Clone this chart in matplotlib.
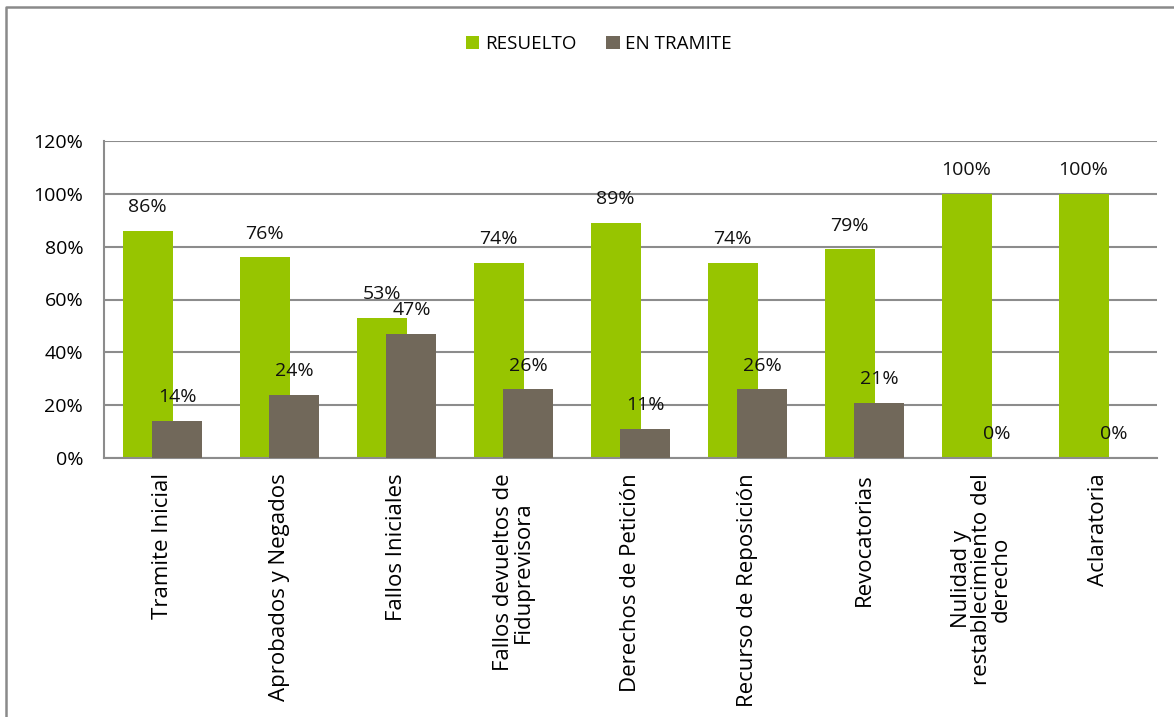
import matplotlib
matplotlib.use("Agg")
import matplotlib.pyplot as plt
from matplotlib.lines import Line2D
import numpy as np

categorias = ["Tramite Inicial", "Aprobados y Negados", "Fallos Iniciales",
              "Fallos devueltos de\nFiduprevisora", "Derechos de Petición",
              "Recurso de Reposición", "Revocatorias",
              "Nulidad y\nrestablecimiento del\nderecho", "Aclaratoria"]
resuelto = [86, 76, 53, 74, 89, 74, 79, 100, 100]
en_tramite = [14, 24, 47, 26, 11, 26, 21, 0, 0]

VERDE = "#97c500"
GRIS = "#71685a"
REJILLA = "#8c8c8c"

plt.rcParams['font.family'] = ['Open Sans', 'DejaVu Sans']

fig = plt.figure(figsize=(11.74, 7.17), dpi=100)
ax = fig.add_axes([104/1174, 1 - 458/717, (1157 - 104)/1174, (458 - 141)/717])

x = np.arange(len(categorias))
ancho = 0.427
desp = 0.128
b1 = ax.bar(x - desp, resuelto, ancho, color=VERDE, label="RESUELTO", zorder=2)
b2 = ax.bar(x + desp, en_tramite, ancho, color=GRIS, label="EN TRAMITE", zorder=3)

for barras, vals in ((b1, resuelto), (b2, en_tramite)):
    for r, v in zip(barras, vals):
        ax.annotate(f"{v}%", (r.get_x() + r.get_width()/2, v),
                    xytext=(0, 17), textcoords="offset points",
                    ha="center", va="center", fontsize=14, color="#111111", zorder=5)

ax.set_xlim(-0.5, len(categorias) - 0.5)
ax.set_ylim(0, 120)
ax.set_yticks(range(0, 121, 20))
ax.set_yticklabels([f"{v}%" for v in range(0, 121, 20)], fontsize=14)
ax.set_xticks(x)
ax.set_xticklabels(categorias, rotation=90, fontsize=16, ha="center", va="top",
                   multialignment="center", linespacing=0.95)
ax.tick_params(axis="y", length=0, pad=15)
ax.tick_params(axis="x", length=0, pad=11)
ax.yaxis.grid(True, color=REJILLA, linewidth=1.5, zorder=0)
ax.set_axisbelow(True)
for s in ("top", "right"):
    ax.spines[s].set_visible(False)
for s in ("left", "bottom"):
    ax.spines[s].set_color(REJILLA)
    ax.spines[s].set_linewidth(1.5)

fig.legend(handles=[b1, b2], loc="center", bbox_to_anchor=(599/1174, 1 - 44/717),
           ncol=2, frameon=False, fontsize=13.5, handlelength=0.7, handleheight=0.7,
           handletextpad=0.3, columnspacing=1.6)

# marco exterior del grafico
fig.add_artist(Line2D([6/1174, 6/1174, 1.0], [0.0, 1 - 7/717, 1 - 7/717],
                      transform=fig.transFigure, color="#8a8a8a", linewidth=1.8))

fig.savefig("out.png", dpi=100)
